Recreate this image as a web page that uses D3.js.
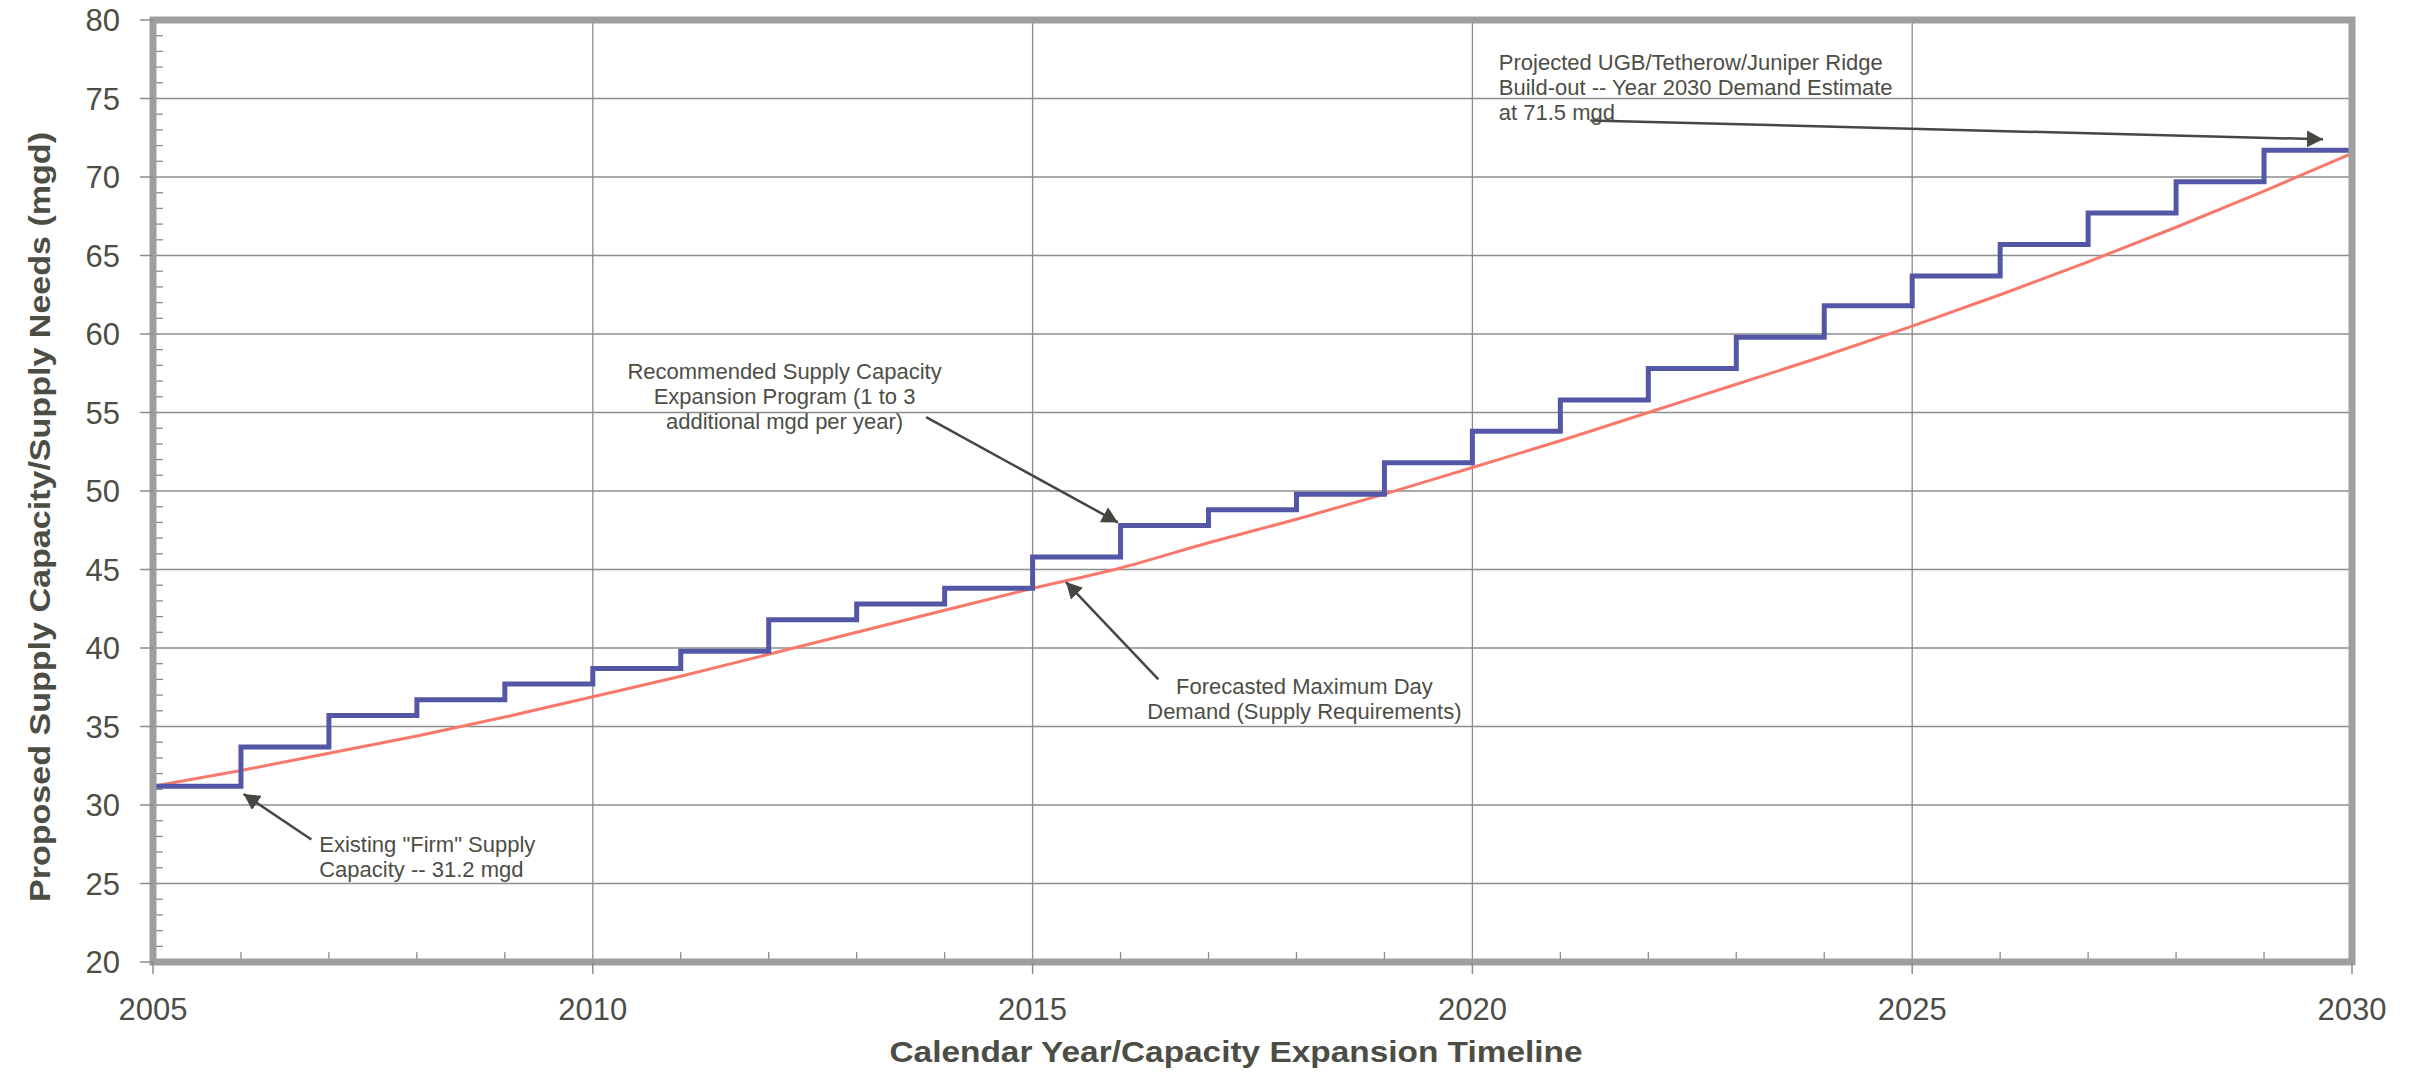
<!DOCTYPE html>
<html>
<head>
<meta charset="utf-8">
<script src="https://cdn.jsdelivr.net/npm/d3@7/dist/d3.min.js"></script>
<style>
  html, body { margin: 0; padding: 0; background: #ffffff; }
  svg { display: block; }
  text { font-family: "Liberation Sans", Arial, sans-serif; }
</style>
</head>
<body>
<svg id="chart" width="2413" height="1080"></svg>
<script>
// ---------------- data ----------------
const years = [2005, 2006, 2007, 2008, 2009, 2010, 2011, 2012, 2013, 2014, 2015, 2016, 2017,
               2018, 2019, 2020, 2021, 2022, 2023, 2024, 2025, 2026, 2027, 2028, 2029, 2030];
// Recommended supply capacity (step line, value held from year to next year)
const supplyCapacity = [31.2, 33.7, 35.7, 36.7, 37.7, 38.7, 39.8, 41.8, 42.8, 43.8, 45.8, 47.8, 48.8,
                        49.8, 51.8, 53.8, 55.8, 57.8, 59.8, 61.8, 63.7, 65.7, 67.7, 69.7, 71.7, 73.5];
// Forecasted maximum day demand (smooth curve)
const demandForecast = [31.2, 32.2, 33.3, 34.4, 35.6, 36.9, 38.2, 39.6, 41.0, 42.4, 43.8, 45.1, 46.7,
                        48.2, 49.8, 51.5, 53.2, 55.0, 56.8, 58.6, 60.5, 62.5, 64.6, 66.8, 69.1, 71.5];
const xTickLabels = [2005, 2010, 2015, 2020, 2025, 2030];
const yTickLabels = [20, 25, 30, 35, 40, 45, 50, 55, 60, 65, 70, 75, 80];
const xTitle = "Calendar Year/Capacity Expansion Timeline";
const yTitle = "Proposed Supply Capacity/Supply Needs (mgd)";
const annotationTexts = [
  ["Existing \"Firm\" Supply", "Capacity -- 31.2 mgd"],
  ["Recommended Supply Capacity", "Expansion Program (1 to 3", "additional mgd per year)"],
  ["Forecasted Maximum Day", "Demand (Supply Requirements)"],
  ["Projected UGB/Tetherow/Juniper Ridge", "Build-out -- Year 2030 Demand Estimate", "at 71.5 mgd"]
];

// ---------------- layout ----------------
const M = { left: 153, right: 2352, top: 20, bottom: 962 };
const TEXT = "#4c4e46";
const svg = d3.select("#chart");

const x = d3.scaleLinear().domain([2005, 2030]).range([M.left, M.right]);
const y = d3.scaleLinear().domain([20, 80]).range([M.bottom, M.top]);

// gridlines
const grid = svg.append("g");
grid.selectAll("line.h").data(yTickLabels.filter(v => v > 20 && v < 80)).enter().append("line")
  .attr("x1", M.left).attr("x2", M.right)
  .attr("y1", d => y(d)).attr("y2", d => y(d))
  .attr("stroke", "#8c8c8c").attr("stroke-width", 1.3);
grid.selectAll("line.v").data(xTickLabels.filter(v => v > 2005 && v < 2030)).enter().append("line")
  .attr("y1", M.top).attr("y2", M.bottom)
  .attr("x1", d => x(d)).attr("x2", d => x(d))
  .attr("stroke", "#8c8c8c").attr("stroke-width", 1.3);

// minor ticks (inside) y
const minorY = d3.range(20, 81, 1).filter(v => v % 5 !== 0);
svg.append("g").selectAll("line").data(minorY).enter().append("line")
  .attr("x1", M.left).attr("x2", M.left + 10)
  .attr("y1", d => y(d)).attr("y2", d => y(d))
  .attr("stroke", "#8c8c8c").attr("stroke-width", 1.3);
// minor ticks (inside) x
const minorX = years.filter(v => v % 5 !== 0);
svg.append("g").selectAll("line").data(minorX).enter().append("line")
  .attr("y1", M.bottom).attr("y2", M.bottom - 10)
  .attr("x1", d => x(d)).attr("x2", d => x(d))
  .attr("stroke", "#8c8c8c").attr("stroke-width", 1.3);

// clip for series
svg.append("clipPath").attr("id", "plotclip").append("rect")
  .attr("x", M.left).attr("y", M.top).attr("width", M.right - M.left).attr("height", M.bottom - M.top);

const pts = years.map((yr, i) => ({ yr, cap: supplyCapacity[i], dem: demandForecast[i] }));

// demand curve
svg.append("path").datum(pts)
  .attr("clip-path", "url(#plotclip)")
  .attr("fill", "none").attr("stroke", "#f8786a").attr("stroke-width", 3)
  .attr("d", d3.line().x(d => x(d.yr)).y(d => y(d.dem)).curve(d3.curveMonotoneX));

// step line
svg.append("path").datum(pts)
  .attr("clip-path", "url(#plotclip)")
  .attr("fill", "none").attr("stroke", "#5457a6").attr("stroke-width", 5)
  .attr("stroke-linejoin", "miter")
  .attr("d", d3.line().x(d => x(d.yr)).y(d => y(d.cap)).curve(d3.curveStepAfter));

// border / axes frame
svg.append("rect")
  .attr("x", M.left).attr("y", M.top).attr("width", M.right - M.left).attr("height", M.bottom - M.top)
  .attr("fill", "none").attr("stroke", "#9e9e9e").attr("stroke-width", 7);

// major ticks (outside)
svg.append("g").selectAll("line").data(yTickLabels).enter().append("line")
  .attr("x1", M.left - 13).attr("x2", M.left)
  .attr("y1", d => y(d)).attr("y2", d => y(d))
  .attr("stroke", "#8c8c8c").attr("stroke-width", 1.5);
svg.append("g").selectAll("line").data(xTickLabels).enter().append("line")
  .attr("y1", M.bottom).attr("y2", M.bottom + 12)
  .attr("x1", d => x(d)).attr("x2", d => x(d))
  .attr("stroke", "#8c8c8c").attr("stroke-width", 1.5);

// tick labels
svg.append("g").selectAll("text").data(yTickLabels).enter().append("text")
  .attr("x", M.left - 33).attr("y", d => y(d)).attr("dy", "0.36em")
  .attr("text-anchor", "end").attr("font-size", 31).attr("fill", TEXT)
  .text(d => d);
svg.append("g").selectAll("text").data(xTickLabels).enter().append("text")
  .attr("x", d => x(d)).attr("y", 1020)
  .attr("text-anchor", "middle").attr("font-size", 31).attr("fill", TEXT)
  .text(d => d);

// axis titles
svg.append("text")
  .attr("x", 1236).attr("y", 1062).attr("text-anchor", "middle")
  .attr("font-size", 30).attr("font-weight", "bold").attr("fill", TEXT)
  .attr("textLength", 693).attr("lengthAdjust", "spacingAndGlyphs")
  .text(xTitle);
svg.append("text")
  .attr("transform", "translate(50,517) rotate(-90)").attr("text-anchor", "middle")
  .attr("font-size", 29).attr("font-weight", "bold").attr("fill", TEXT)
  .attr("textLength", 770).attr("lengthAdjust", "spacingAndGlyphs")
  .text(yTitle);

// annotation arrows in data coordinates
const arrows = [
  { tail: [2006.80, 27.8], tip: [2006.03, 30.7] },
  { tail: [2013.79, 54.7], tip: [2015.97, 48.0] },
  { tail: [2016.43, 38.0], tip: [2015.38, 44.2] },
  { tail: [2021.34, 73.6], tip: [2029.67, 72.4] }
];
const labelPos = [
  { yr: 2006.89, base: 852, anchor: "start" },
  { yr: 2012.18, base: 379, anchor: "middle" },
  { yr: 2018.09, base: 694, anchor: "middle" },
  { yr: 2020.30, base: 70, anchor: "start" }
];

const defs = svg.append("defs");
defs.append("marker").attr("id", "arrowhead")
  .attr("viewBox", "0 0 16 17").attr("refX", 16).attr("refY", 8.5)
  .attr("markerWidth", 16).attr("markerHeight", 17).attr("markerUnits", "userSpaceOnUse")
  .attr("orient", "auto")
  .append("path").attr("d", "M0,0 L16,8.5 L0,17 Z").attr("fill", "#454740");

arrows.forEach(a => {
  svg.append("line")
    .attr("x1", x(a.tail[0])).attr("y1", y(a.tail[1]))
    .attr("x2", x(a.tip[0])).attr("y2", y(a.tip[1]))
    .attr("stroke", "#454740").attr("stroke-width", 2.5)
    .attr("marker-end", "url(#arrowhead)");
});

annotationTexts.forEach((lines, i) => {
  const p = labelPos[i];
  const t = svg.append("text").attr("font-size", 22).attr("fill", TEXT)
    .attr("text-anchor", p.anchor);
  lines.forEach((ln, j) => {
    t.append("tspan").attr("x", x(p.yr)).attr("y", p.base + j * 25).text(ln);
  });
});
</script>
</body>
</html>
